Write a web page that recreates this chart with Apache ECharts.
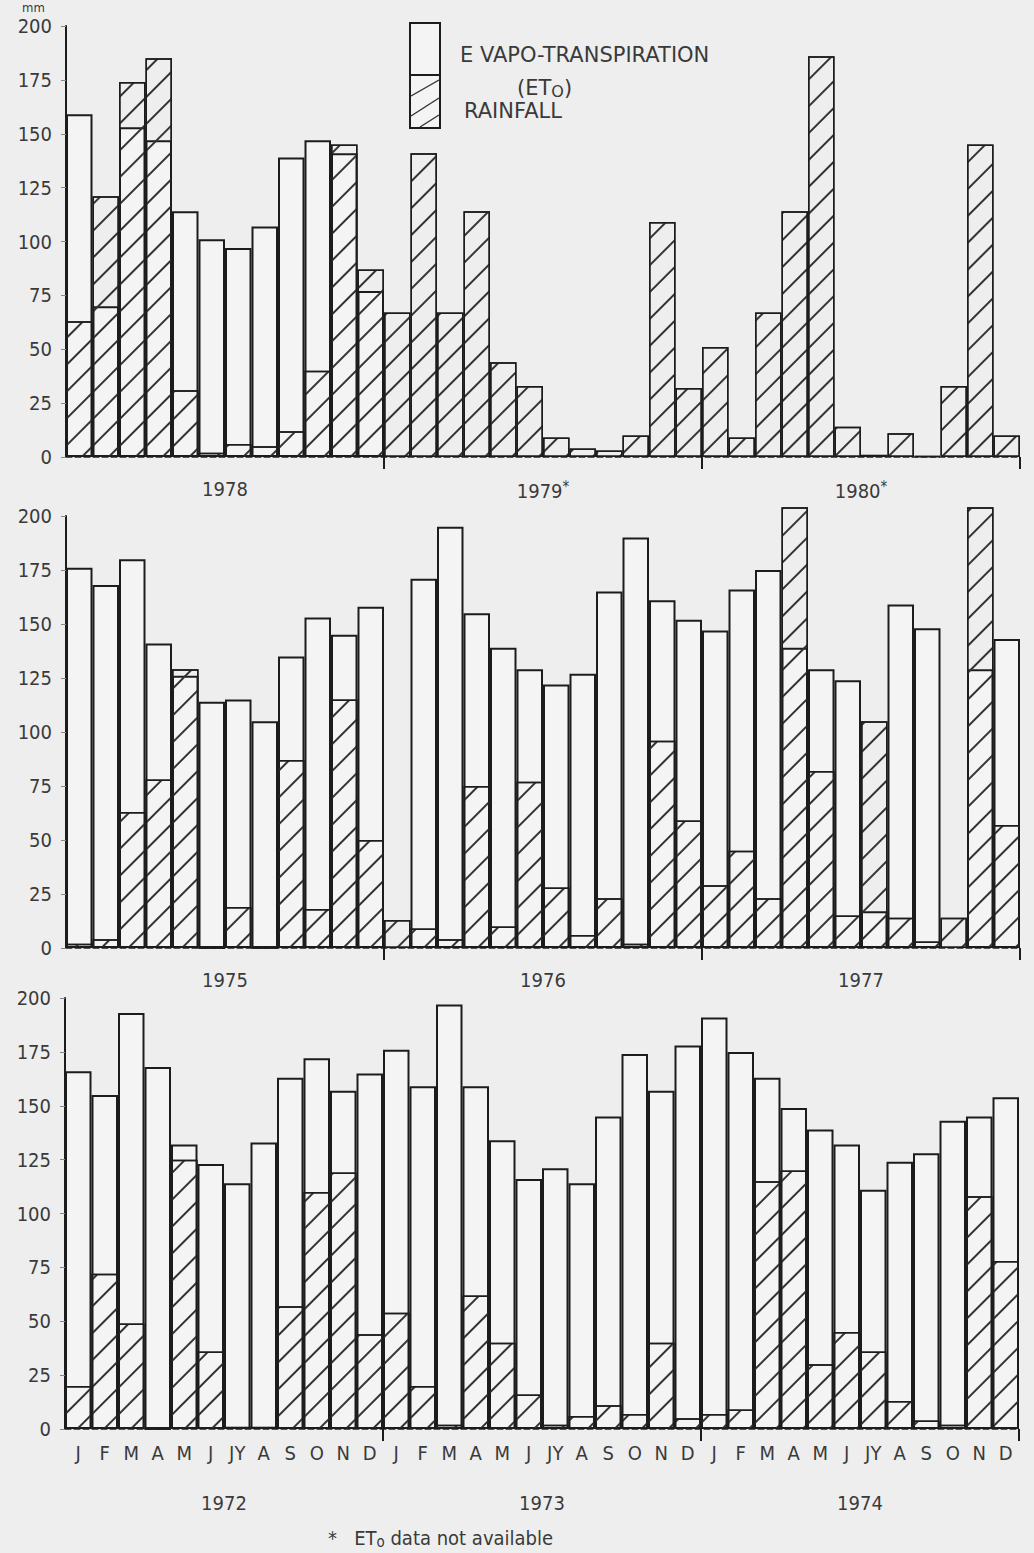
<!DOCTYPE html>
<html>
<head>
<meta charset="utf-8">
<script src="https://cdn.jsdelivr.net/npm/echarts@6/dist/echarts.min.js"></script>
<style>
  html, body { margin: 0; padding: 0; background: #eeeeee; }
  #chart { width: 1034px; height: 1553px; }
</style>
</head>
<body>
<div id="chart"></div>
<script>
// month initials as printed under the bottom panel
const months = ['J', 'F', 'M', 'A', 'M', 'J', 'JY', 'A', 'S', 'O', 'N', 'D']

// year labels, top panel first
const years1 = ['1978', '1979*', '1980*']
const years2 = ['1975', '1976', '1977']
const years3 = ['1972', '1973', '1974']

// y ticks (mm)
const yTicks = [0, 25, 50, 75, 100, 125, 150, 175, 200]

// top panel 1978-1980 (ETo not available 1979/1980)
const et0_1978_80 = [
  159, 70, 153, 147, 114, 101, 97, 107, 139, 147, 141, 77,
  null, null, null, null, null, null, null, null, null, null, null, null,
  null, null, null, null, null, null, null, null, null, null, null, null
]
const rain_1978_80 = [
  63, 121, 174, 185, 31, 2, 6, 5, 12, 40, 145, 87,
  67, 141, 67, 114, 44, 33, 9, 4, 3, 10, 109, 32,
  51, 9, 67, 114, 186, 14, 1, 11, 0.5, 33, 145, 10
]

// middle panel 1975-1977
const et0_1975_77 = [
  176, 168, 180, 141, 126, 114, 115, 105, 135, 153, 145, 158,
  null, 171, 195, 155, 139, 129, 122, 127, 165, 190, 161, 152,
  147, 166, 175, 139, 129, 124, 17, 159, 148, null, 129, 143
]
const rain_1975_77 = [
  2, 4, 63, 78, 129, 0, 19, 0, 87, 18, 115, 50,
  13, 9, 4, 75, 10, 77, 28, 6, 23, 2, 96, 59,
  29, 45, 23, 204, 82, 15, 105, 14, 3, 14, 204, 57
]

// bottom panel 1972-1974
const et0_1972_74 = [
  166, 155, 193, 168, 132, 123, 114, 133, 163, 172, 157, 165,
  176, 159, 197, 159, 134, 116, 121, 114, 145, 174, 157, 178,
  191, 175, 163, 149, 139, 132, 111, 124, 128, 143, 145, 154
]
const rain_1972_74 = [
  20, 72, 49, 0, 125, 36, 1, 1, 57, 110, 119, 44,
  54, 20, 2, 62, 40, 16, 2, 6, 11, 7, 40, 5,
  7, 9, 115, 120, 30, 45, 36, 13, 4, 2, 108, 78
]

const font = "'DejaVu Sans Condensed', 'DejaVu Sans', sans-serif"
const ink = '#1c1c1c'

const chart = echarts.init(document.getElementById('chart'), null, { renderer: 'svg' })

const panels = [
  { years: years1, et0: et0_1978_80, rain: rain_1978_80, grid: { left: 66, right: 14, top: 26, height: 431 } },
  { years: years2, et0: et0_1975_77, rain: rain_1975_77, grid: { left: 66, right: 14, top: 516, height: 432 } },
  { years: years3, et0: et0_1972_74, rain: rain_1972_74, grid: { left: 65, right: 15, top: 998, height: 431 } }
]

const hatch = {
  symbol: 'rect',
  symbolSize: 1,
  dashArrayX: [1, 0],
  dashArrayY: [1.6, 17],
  rotation: -Math.PI / 4,
  color: '#333'
}

let option = {
  backgroundColor: '#eeeeee',
  animation: false,
  grid: [],
  xAxis: [],
  yAxis: [],
  series: [],
  graphic: []
}

panels.forEach((p, i) => {
  const cats = []
  p.years.forEach((y) => {
    months.forEach((m) => cats.push(m + ' ' + y))
  })
  const isBottom = i === panels.length - 1

  option.grid.push(p.grid)

  // month axis
  option.xAxis.push({
    type: 'category',
    gridIndex: i,
    data: cats,
    axisLine: { lineStyle: { color: '#555', width: 1, type: [6, 3] } },
    axisTick: {
      show: true,
      interval: (idx) => idx === 12 || idx === 24,
      length: 12,
      lineStyle: { color: ink, width: 2 }
    },
    axisLabel: {
      show: isBottom,
      interval: 0,
      margin: 14,
      fontSize: 20,
      fontFamily: font,
      color: '#3a3a3a',
      formatter: (v) => v.split(' ')[0]
    }
  })

  // year axis
  option.xAxis.push({
    type: 'category',
    gridIndex: i,
    data: p.years,
    position: 'bottom',
    offset: isBottom ? 56 : 0,
    axisLine: { show: false },
    axisTick: { show: false },
    axisLabel: {
      margin: isBottom ? 8 : 22,
      fontSize: 20,
      fontFamily: font,
      color: '#3a3a3a',
      formatter: (v) => v.replace('*', '{s|*}'),
      rich: { s: { fontSize: 15, verticalAlign: 'top', padding: [0, 0, 8, 0] } }
    }
  })

  option.yAxis.push({
    type: 'value',
    gridIndex: i,
    min: yTicks[0],
    max: yTicks[yTicks.length - 1],
    interval: 25,
    axisLine: { show: true, lineStyle: { color: ink, width: 2 } },
    axisTick: { show: true, length: 5, lineStyle: { color: '#888' } },
    splitLine: { show: false },
    axisLabel: { fontSize: 20, fontFamily: font, color: '#3a3a3a', margin: 14 }
  })

  option.series.push({
    name: 'ETo',
    type: 'bar',
    xAxisIndex: 2 * i,
    yAxisIndex: i,
    data: p.et0,
    barWidth: '100%',
    barGap: '-100%',
    barCategoryGap: '0%',
    clip: false,
    z: 2,
    itemStyle: { color: '#f4f4f4', borderColor: ink, borderWidth: 2 }
  })
  option.series.push({
    name: 'Rainfall',
    type: 'bar',
    xAxisIndex: 2 * i,
    yAxisIndex: i,
    data: p.rain,
    barWidth: '100%',
    barGap: '-100%',
    barCategoryGap: '0%',
    clip: false,
    z: 3,
    itemStyle: { color: 'rgba(0,0,0,0)', borderColor: ink, borderWidth: 1.5, decal: hatch }
  })
})

const legendFont = "'DejaVu Sans', sans-serif"

// unit, legend key and footnote
option.graphic = [
  {
    type: 'text', left: 22, top: 1,
    style: { text: 'mm', fontSize: 13, lineHeight: 13, fontFamily: font, fill: '#3a3a3a' }
  },
  {
    type: 'rect', shape: { x: 410, y: 23, width: 30, height: 52 },
    style: { fill: '#f4f4f4', stroke: ink, lineWidth: 2 }, z: 10
  },
  {
    type: 'rect', shape: { x: 410, y: 75, width: 30, height: 53 },
    style: { fill: '#f4f4f4', stroke: ink, lineWidth: 2 }, z: 10
  },
  { type: 'line', shape: { x1: 411, y1: 96, x2: 439, y2: 80 }, style: { stroke: '#333', lineWidth: 1.4 }, z: 11 },
  { type: 'line', shape: { x1: 411, y1: 116, x2: 439, y2: 98 }, style: { stroke: '#333', lineWidth: 1.4 }, z: 11 },
  { type: 'line', shape: { x1: 420, y1: 127, x2: 439, y2: 115 }, style: { stroke: '#333', lineWidth: 1.4 }, z: 11 },
  {
    type: 'text', left: 460, top: 44, z: 11,
    style: { text: 'E VAPO-TRANSPIRATION', fontSize: 21, fontFamily: legendFont, fill: '#3a3a3a' }
  },
  {
    type: 'text', left: 517, top: 77, z: 11,
    style: {
      text: '(ET{s|O})',
      fontSize: 21, fontFamily: legendFont, fill: '#3a3a3a',
      rich: { s: { fontSize: 16, fontFamily: legendFont, fill: '#3a3a3a', padding: [8, 0, 0, 0] } }
    }
  },
  {
    type: 'text', left: 464, top: 100, z: 11,
    style: { text: 'RAINFALL', fontSize: 21, fontFamily: legendFont, fill: '#3a3a3a' }
  },
  {
    type: 'text', left: 328, top: 1528, z: 11,
    style: {
      text: '*   ET{s|o} data not available',
      fontSize: 20, fontFamily: font, fill: '#3a3a3a',
      rich: { s: { fontSize: 15, fontFamily: font, fill: '#3a3a3a', padding: [8, 0, 0, 0] } }
    }
  }
]

option && chart.setOption(option)
</script>
</body>
</html>
